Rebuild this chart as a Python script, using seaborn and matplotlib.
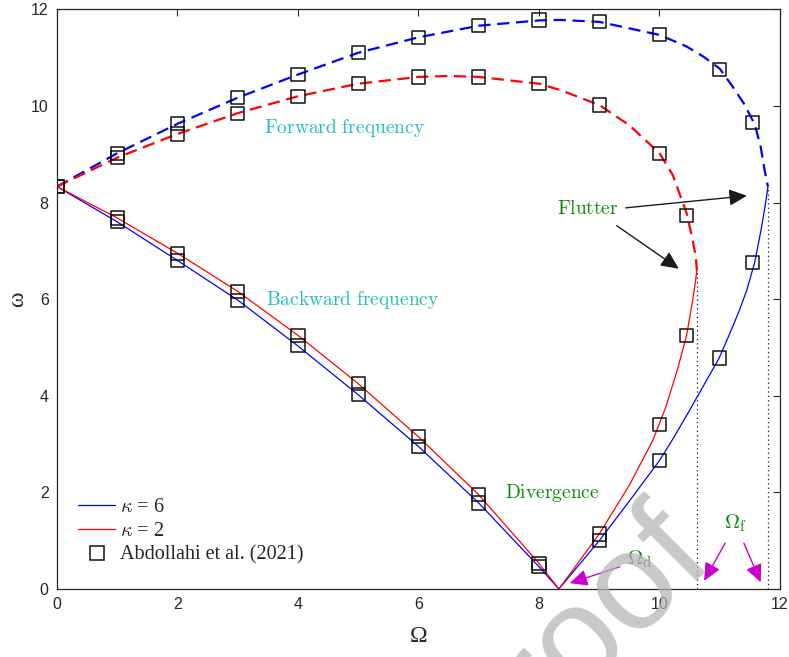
import numpy as np
import pandas as pd
import matplotlib
matplotlib.use("Agg")
import matplotlib.pyplot as plt
from matplotlib.lines import Line2D
from matplotlib.patches import ArrowStyle
import seaborn as sns

# ---- present model: kappa = 6 ----
k6_fwd_omega = [0, 1, 2, 3, 4, 5, 6, 7, 8, 8.35, 9, 10, 10.45, 10.73, 11, 11.22, 11.4, 11.58, 11.68, 11.74, 11.78, 11.8]
k6_fwd_freq = [8.33, 9.02, 9.63, 10.17, 10.65, 11.10, 11.42, 11.66, 11.77, 11.78, 11.74, 11.47, 11.23, 11.02, 10.77, 10.39, 10.05, 9.62, 9.15, 8.7, 8.45, 8.33]
k6_bwd_omega = [0, 1, 2, 3, 4, 5, 6, 7, 8, 8.33]
k6_bwd_freq = [8.33, 7.60, 6.80, 5.98, 5.03, 4.02, 2.95, 1.78, 0.46, 0.0]
k6_rise_omega = [8.33, 9, 9.5, 10, 10.21, 10.5, 10.99, 11.17, 11.32, 11.45, 11.58, 11.68, 11.75, 11.8]
k6_rise_freq = [0.0, 1.0, 1.82, 2.66, 3.08, 3.7, 4.78, 5.30, 5.75, 6.19, 6.76, 7.4, 7.9, 8.33]

# ---- present model: kappa = 2 ----
k2_fwd_omega = [0, 1, 2, 3, 4, 5, 6, 6.5, 7, 8, 8.35, 9, 9.5, 10, 10.22, 10.45, 10.54, 10.6, 10.62]
k2_fwd_freq = [8.33, 8.93, 9.42, 9.85, 10.2, 10.46, 10.6, 10.62, 10.6, 10.46, 10.33, 10.02, 9.6, 9.02, 8.57, 7.78, 7.29, 6.9, 6.6]
k2_bwd_omega = [0, 1, 2, 3, 4, 5, 6, 7, 8, 8.33]
k2_bwd_freq = [8.33, 7.68, 6.95, 6.16, 5.25, 4.25, 3.15, 1.95, 0.53, 0.0]
k2_rise_omega = [8.33, 9, 9.5, 9.89, 10.1, 10.3, 10.45, 10.54, 10.59, 10.62]
k2_rise_freq = [0.0, 1.14, 2.15, 3.08, 3.75, 4.55, 5.25, 5.9, 6.3, 6.6]

# ---- Abdollahi et al. (2021) ----
ref_k6_omega = [0, 1, 2, 3, 4, 5, 6, 7, 8, 9, 10, 11, 11.55,
                1, 2, 3, 4, 5, 6, 7, 8, 9, 10, 11, 11.55]
ref_k6_freq = [8.33, 9.02, 9.63, 10.17, 10.65, 11.10, 11.42, 11.66, 11.78, 11.74, 11.47, 10.75, 9.65,
               7.60, 6.80, 5.98, 5.04, 4.02, 2.95, 1.78, 0.46, 1.0, 2.66, 4.78, 6.76]
ref_k2_omega = [0, 1, 2, 3, 4, 5, 6, 7, 8, 9, 10, 10.45,
                1, 2, 3, 4, 5, 6, 7, 8, 9, 10, 10.45]
ref_k2_freq = [8.33, 8.93, 9.42, 9.85, 10.2, 10.46, 10.6, 10.6, 10.46, 10.02, 9.02, 7.74,
               7.68, 6.95, 6.16, 5.25, 4.25, 3.15, 1.95, 0.53, 1.14, 3.40, 5.25]

sns.set_theme(style="white")
plt.rcParams["font.family"] = ["Liberation Sans", "DejaVu Sans"]
plt.rcParams["mathtext.fontset"] = "cm"

W, H = 789, 657
fig = plt.figure(figsize=(W / 100, H / 100), dpi=100)
ax = fig.add_axes([57 / W, 1 - 589 / H, (780 - 57) / W, (589 - 9.3) / H])

dash = (0, (5.5, 3))
sns.lineplot(x=k6_fwd_omega, y=k6_fwd_freq, sort=False, estimator=None, ax=ax,
             color="#0000ff", lw=1.6, linestyle=dash)
sns.lineplot(x=k2_fwd_omega, y=k2_fwd_freq, sort=False, estimator=None, ax=ax,
             color="#ff0000", lw=1.6, linestyle=dash)
for xs, ys, c in [(k6_bwd_omega, k6_bwd_freq, "#0000ff"), (k6_rise_omega, k6_rise_freq, "#0000ff"),
                  (k2_bwd_omega, k2_bwd_freq, "#ff0000"), (k2_rise_omega, k2_rise_freq, "#ff0000")]:
    sns.lineplot(x=xs, y=ys, sort=False, estimator=None, ax=ax, color=c, lw=0.9)

# flutter onset: vertical dotted guides down from where the forward branch meets the rising branch
ax.vlines([k2_fwd_omega[-1], k6_fwd_omega[-1]], 0, [k2_fwd_freq[-1], k6_fwd_freq[-1]],
          colors="k", linestyles=(0, (1, 2.5)), lw=0.9)

ref = pd.DataFrame({"Omega": ref_k6_omega + ref_k2_omega, "omega": ref_k6_freq + ref_k2_freq})
sns.scatterplot(data=ref, x="Omega", y="omega", ax=ax, marker="s", s=90,
                facecolors="none", edgecolor="#111111", linewidth=1.1, zorder=5)

ax.set_xlim(0, 12)
ax.set_ylim(0, 12)
ax.set_xticks(range(0, 13, 2))
ax.set_yticks(range(0, 13, 2))
ax.tick_params(direction="in", top=True, right=True, length=5, width=0.8,
               labelsize=11.5, colors="#262626", pad=6)
for s in ax.spines.values():
    s.set_color("#262626")
    s.set_linewidth(0.9)

ax.set_xlabel("Ω", family="Liberation Serif", fontsize=17, color="#262626")
ax.set_ylabel("ω", family="Liberation Serif", fontsize=17, color="#262626")
ax.xaxis.set_label_coords(0.5, -0.064)
ax.yaxis.set_label_coords(-0.04, 0.5)

green = "#0a8a0a"
cyan = "#22bdbd"
ax.text(4.78, 9.54, r"$\mathrm{Forward\ frequency}$", color=cyan, fontsize=14, ha="center", va="center")
ax.text(4.91, 5.98, r"$\mathrm{Backward\ frequency}$", color=cyan, fontsize=14, ha="center", va="center")
ax.text(8.81, 7.87, r"$\mathrm{Flutter}$", color=green, fontsize=14, ha="center", va="center")
ax.text(8.22, 1.99, r"$\mathrm{Divergence}$", color=green, fontsize=14, ha="center", va="center")
ax.text(9.68, 0.62, r"$\Omega_\mathrm{d}$", color=green, fontsize=15, ha="center", va="center")
ax.text(11.27, 1.37, r"$\Omega_\mathrm{f}$", color=green, fontsize=15, ha="center", va="center")

head = ArrowStyle("-|>", head_length=0.6, head_width=0.28)
arrows = [
    ((9.44, 7.89), (11.45, 8.14), "k"),
    ((9.29, 7.52), (10.32, 6.63), "k"),
    ((9.34, 0.46), (8.51, 0.12), "#cc00cc"),
    ((11.09, 0.95), (10.74, 0.17), "#cc00cc"),
    ((11.40, 0.95), (11.68, 0.14), "#cc00cc"),
]
for start, tip, c in arrows:
    ax.annotate("", xy=tip, xytext=start,
                arrowprops=dict(arrowstyle=head, color=c, lw=1, mutation_scale=18,
                                shrinkA=0, shrinkB=0))

handles = [
    Line2D([], [], color="#0000ff", lw=0.9),
    Line2D([], [], color="#ff0000", lw=0.9),
    Line2D([], [], ls="none", marker="s", mfc="none", mec="#111111", ms=9.5, mew=1.1),
]
labels = [r"$\kappa$ = 6", r"$\kappa$ = 2", "Abdollahi et al. (2021)"]
ax.legend(handles, labels, loc="lower left", bbox_to_anchor=(0.029, 0.042), frameon=False,
          prop={"family": "Liberation Serif", "size": 14.5}, handlelength=1.85,
          handletextpad=0.25, labelspacing=0.22, borderpad=0, borderaxespad=0)

# proof watermark
fig.text(716 / W, 1 - 562 / H, "Journal Pre-proof", rotation=45, rotation_mode="anchor",
         ha="right", va="baseline", fontsize=100, family="Liberation Sans",
         color="#b4b4b4", alpha=0.73, zorder=10)

fig.savefig("out.png", dpi=100)
